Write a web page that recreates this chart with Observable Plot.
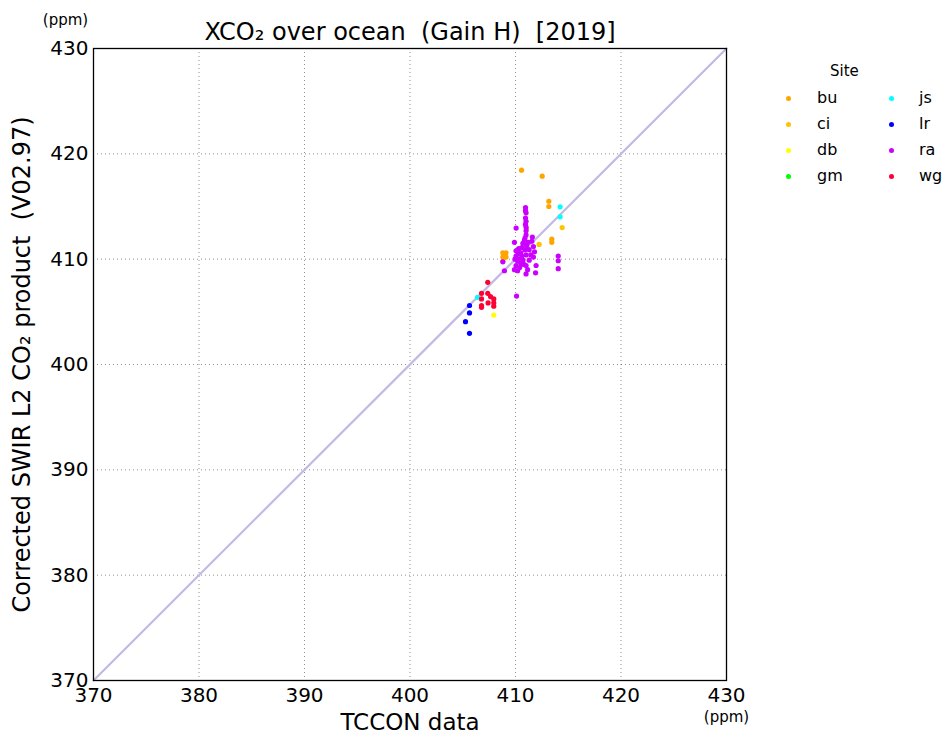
<!DOCTYPE html>
<html>
<head>
<meta charset="utf-8">
<script src="https://cdn.jsdelivr.net/npm/d3@7"></script>
<script src="https://cdn.jsdelivr.net/npm/@observablehq/plot@0.6"></script>
<style>
  body { margin: 0; background: #fff; font-family: "DejaVu Sans", sans-serif; }
  #wrap { position: relative; width: 950px; height: 738px; }
  #legend { position: absolute; left: 770px; top: 58px; width: 180px; font-family: "DejaVu Sans", sans-serif; color: #000; }
  #legend .ttl { position: absolute; left: 60px; top: 4px; font-size: 15px; }
  #legend .item { position: absolute; font-size: 16px; line-height: 18px; }
  #legend .dot { position: absolute; width: 5px; height: 5px; border-radius: 50%; }
</style>
</head>
<body>
<div id="wrap"></div>
<script>
// Site names and colours
const sites = ["bu", "ci", "db", "gm", "js", "lr", "ra", "wg"];
const siteColors = ["#ffa500", "#ffc400", "#ffff00", "#00ff00", "#00ffff", "#0000ff", "#cc00ff", "#ff0033"];

// Per-site points: [TCCON, SWIR L2] in ppm
const bu = [[410.57,418.45],[412.53,417.88],[413.16,415.5],[413.16,415.0],[411.04,412.88],[413.44,411.9],[413.44,411.6],
            [408.8,410.6],[409.1,410.6],[408.8,410.2],[409.1,410.2],[408.8,409.8],[409.0,410.4]];
const ci = [[414.42,413.0],[412.24,411.4]];
const db = [[407.94,404.7]];
const gm = [];
const js = [[414.23,414.97],[414.23,414.02],[406.4,406.38]];
const lr = [[405.64,405.6],[405.64,404.9],[405.26,404.07],[405.64,402.96]];
const ra = [[410.95,414.9],[410.95,414.6],[411.0,414.4],[410.95,413.9],[411.0,413.6],[410.95,413.3],[411.0,413.05],[410.06,412.95],
            [411.0,412.7],[411.0,412.3],[410.9,412.0],[411.6,412.1],[409.9,411.6],[410.85,411.8],[410.7,411.5],[411.05,411.3],
            [410.6,411.1],[411.3,410.9],[411.0,410.4],[410.6,410.3],[410.4,410.0],[410.2,409.8],[410.05,410.8],[410.05,410.3],
            [409.95,410.0],[410.05,409.4],[410.2,408.9],[410.4,409.2],[410.8,409.5],[411.0,409.4],[411.3,409.9],[411.45,410.4],
            [411.7,410.2],[411.8,410.7],[411.7,411.2],[411.55,411.7],[411.95,409.4],[411.9,408.7],[411.0,408.6],[414.05,410.3],
            [414.05,409.85],[414.05,409.1],[408.8,409.75],[408.95,408.9],[410.1,406.5],[410.5,410.6],[410.3,411.0],[410.9,410.9],
            [411.2,411.6],[410.7,409.9],[410.5,409.6],[411.15,409.0],[410.25,410.5],[409.9,409.0]];
const wg = [[407.37,407.8],[406.78,406.76],[406.78,406.23],[406.78,405.43],[406.78,405.6],[407.37,406.76],[407.63,406.45],
            [407.4,405.85],[407.94,406.23],[407.94,405.85],[407.94,405.53]];

const ticks = [370, 380, 390, 400, 410, 420, 430];
const oneToOne = [370, 430];

const bySite = {bu, ci, db, gm, js, lr, ra, wg};
const points = sites.flatMap(s => bySite[s].map(([x, y]) => ({site: s, x, y})));

const chart = Plot.plot({
  width: 950,
  height: 738,
  marginLeft: 93,
  marginRight: 224,
  marginTop: 48,
  marginBottom: 58,
  style: {fontFamily: "DejaVu Sans, sans-serif", background: "#fff", color: "#000"},
  x: {domain: [370, 430], label: null},
  y: {domain: [370, 430], label: null},
  color: {domain: sites, range: siteColors},
  marks: [
    Plot.gridX(ticks, {stroke: "#000", strokeOpacity: 0.55, strokeWidth: 0.8, strokeDasharray: "1,3"}),
    Plot.gridY(ticks, {stroke: "#000", strokeOpacity: 0.55, strokeWidth: 0.8, strokeDasharray: "1,3"}),
    Plot.line(oneToOne, {x: d => d, y: d => d, stroke: "#c3b9e6", strokeWidth: 2.2}),
    Plot.dot(points, {x: "x", y: "y", fill: "site", r: 2.6, stroke: null}),
    Plot.frame({stroke: "#000", strokeWidth: 1.3}),
    Plot.axisX(ticks, {tickSize: 0, tickPadding: 7, fontSize: 20, tickFormat: d => String(d), label: null}),
    Plot.axisY(ticks, {tickSize: 0, tickPadding: 5, fontSize: 20, tickFormat: d => String(d), label: null}),
    Plot.text(["XCO₂ over ocean  (Gain H)  [2019]"], {frameAnchor: "top", dy: -16, fontSize: 24, textAnchor: "middle", lineAnchor: "middle", text: d => d}),
    Plot.text(["TCCON data"], {frameAnchor: "bottom", dy: 42, fontSize: 23, textAnchor: "middle", lineAnchor: "middle", text: d => d}),
    Plot.text(["Corrected SWIR L2 CO₂ product  (V02.97)"], {frameAnchor: "left", dx: -71, rotate: -90, fontSize: 24, textAnchor: "middle", lineAnchor: "middle", text: d => d}),
    Plot.text(["(ppm)"], {frameAnchor: "top-left", dx: -28, dy: -28, fontSize: 15, textAnchor: "middle", lineAnchor: "middle", text: d => d}),
    Plot.text(["(ppm)"], {frameAnchor: "bottom-right", dx: 0, dy: 37, fontSize: 15, textAnchor: "middle", lineAnchor: "middle", text: d => d})
  ]
});

const wrap = document.getElementById("wrap");
wrap.appendChild(chart);

// Legend (HTML, over the right margin)
const legend = document.createElement("div");
legend.id = "legend";
const ttl = document.createElement("div");
ttl.className = "ttl";
ttl.textContent = "Site";
legend.appendChild(ttl);
sites.forEach((s, i) => {
  const col = Math.floor(i / 4), row = i % 4;
  const dot = document.createElement("div");
  dot.className = "dot";
  dot.style.background = siteColors[i];
  dot.style.left = (16 + col * 103) + "px";
  dot.style.top = (38 + row * 26) + "px";
  legend.appendChild(dot);
  const lab = document.createElement("div");
  lab.className = "item";
  lab.textContent = s;
  lab.style.left = (47 + col * 102) + "px";
  lab.style.top = (31 + row * 26) + "px";
  legend.appendChild(lab);
});
wrap.appendChild(legend);
</script>
</body>
</html>
